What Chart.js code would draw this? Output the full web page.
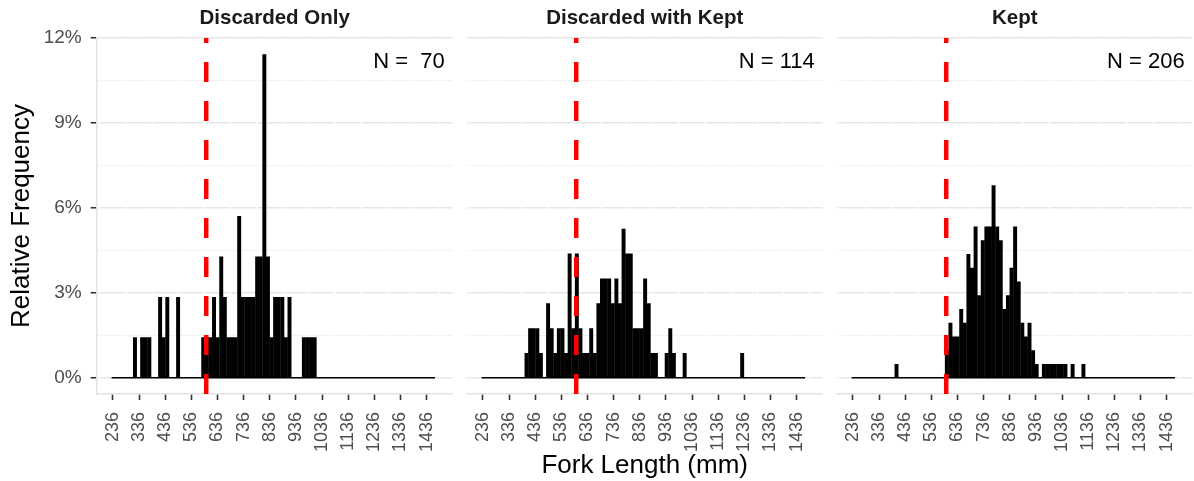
<!DOCTYPE html>
<html>
<head>
<meta charset="utf-8">
<script src="https://cdn.jsdelivr.net/npm/chart.js@4.4.1/dist/chart.umd.min.js"></script>
<style>
  html, body { margin: 0; padding: 0; background: #fff; }
  #wrap { position: relative; width: 1194px; height: 481px; overflow: hidden; }
  canvas { position: absolute; top: 0; }
</style>
</head>
<body>
<div id="wrap">
  <canvas id="p1" width="460" height="481" style="left:0px"></canvas>
  <canvas id="p2" width="370" height="481" style="left:460px"></canvas>
  <canvas id="p3" width="364" height="481" style="left:830px"></canvas>
</div>
<script>
// facets
const panelTitles = ["Discarded Only", "Discarded with Kept", "Kept"];
const sampleSizes = [70, 114, 206];
const nLabels = ["N =  70", "N = 114", "N = 206"];

// histogram bins (mm)
const binStart = 231;
const binWidth = 13.75;

// fish per bin
const countsDiscarded = [
  0,0,0,0,0,0,1,0,1,1,
  1,0,0,2,1,2,0,0,2,0,
  0,0,0,0,0,1,1,1,2,1,
  3,2,1,1,1,4,2,2,2,2,
  3,3,8,3,1,2,2,2,1,2,
  0,0,0,1,1,1,1,0,0,0,
  0,0,0,0,0,0,0,0,0,0,
  0,0,0,0,0,0,0,0,0,0,
  0,0,0,0,0,0,0,0,0,0
];
const countsDiscardedKept = [
  0,0,0,0,0,0,0,0,0,0,
  0,0,1,2,2,2,1,0,3,2,
  1,2,2,1,5,2,5,2,1,1,
  2,1,3,4,4,4,3,4,3,6,
  5,5,2,2,2,4,3,1,1,0,
  0,1,2,1,0,0,1,0,0,0,
  0,0,0,0,0,0,0,0,0,0,
  0,0,1,0,0,0,0,0,0,0,
  0,0,0,0,0,0,0,0,0,0
];
const countsKept = [
  0,0,0,0,0,0,0,0,0,0,
  0,0,1,0,0,0,0,0,0,0,
  0,0,0,0,0,0,2,4,3,3,
  5,4,9,8,11,6,10,11,11,14,
  11,10,5,6,8,11,7,4,3,4,
  2,1,0,1,1,1,1,1,1,1,
  0,1,0,0,1,0,0,0,0,0,
  0,0,0,0,0,0,0,0,0,0,
  0,0,0,0,0,0,0,0,0,0
];

// axes
const xTicks = [236, 336, 436, 536, 636, 736, 836, 936, 1036, 1136, 1236, 1336, 1436];
const yTicks = [0, 1.5, 3, 4.5, 6, 7.5, 9, 10.5, 12];
const xLimits = [174, 1536];
const minSizeLine = 593;

const allCounts = [countsDiscarded, countsDiscardedKept, countsKept];

Chart.defaults.font.family = '"Liberation Sans", Arial, sans-serif';

const pct = allCounts.map((c, p) => c.map(v => v / sampleSizes[p] * 100));
const maxPct = Math.max(...pct.flat());
const yLimits = [-maxPct * 0.05, maxPct * 1.05];
const isMajor = v => Math.abs(v / 3 - Math.round(v / 3)) < 1e-6;

const decor = {
  id: 'decor',
  beforeDatasetsDraw(chart) {
    const { ctx, chartArea: a, scales: { x } } = chart;
    ctx.save();
    ctx.strokeStyle = '#ffffff';
    ctx.lineWidth = 1.4;
    const minors = xTicks.map(v => v - 50).concat([xTicks[xTicks.length - 1] + 50]);
    minors.forEach(v => {
      const px = x.getPixelForValue(v);
      if (px < a.left + 1 || px > a.right) return;
      ctx.beginPath();
      ctx.moveTo(px, a.top);
      ctx.lineTo(px, a.bottom - 1.5);
      ctx.stroke();
    });
    ctx.restore();
  },
  afterDatasetsDraw(chart, args, opts) {
    const { ctx, chartArea: a, scales: { x, y } } = chart;
    const nBins = opts.nBins;
    // zero baseline of the histogram
    ctx.save();
    ctx.strokeStyle = '#000';
    ctx.lineWidth = 1.6;
    ctx.beginPath();
    ctx.moveTo(x.getPixelForValue(binStart), y.getPixelForValue(0));
    ctx.lineTo(x.getPixelForValue(binStart + binWidth * nBins), y.getPixelForValue(0));
    ctx.stroke();
    ctx.restore();

    // minimum size line
    ctx.save();
    ctx.beginPath();
    ctx.rect(a.left, a.top, a.right - a.left, a.bottom - a.top);
    ctx.clip();
    const xr = x.getPixelForValue(minSizeLine);
    ctx.strokeStyle = '#FF0000';
    ctx.lineWidth = 4.5;
    ctx.setLineDash([20, 19]);
    ctx.beginPath();
    ctx.moveTo(xr, a.bottom);
    ctx.lineTo(xr, a.top);
    ctx.stroke();
    ctx.restore();

    // sample size
    ctx.save();
    ctx.fillStyle = '#000';
    ctx.font = '22px "Liberation Sans", Arial, sans-serif';
    ctx.textAlign = 'right';
    ctx.textBaseline = 'middle';
    ctx.fillText(opts.nLabel, a.right - 8, 62);
    // strip title
    ctx.fillStyle = '#1a1a1a';
    ctx.font = 'bold 20.5px "Liberation Sans", Arial, sans-serif';
    ctx.textAlign = 'center';
    ctx.fillText(opts.title, (a.left + a.right) / 2, 18);
    ctx.restore();
  }
};

function makePanel(id, p, pad) {
  const first = p === 0;
  const counts = allCounts[p];
  const data = counts.map((c, i) => ({ x: binStart + binWidth * (i + 0.5), y: pct[p][i] }));
  new Chart(document.getElementById(id), {
    type: 'bar',
    data: {
      datasets: [{
        data: data,
        backgroundColor: '#000',
        borderWidth: 0,
        barPercentage: 1.1,
        categoryPercentage: 1.0
      }]
    },
    options: {
      responsive: false,
      animation: false,
      layout: { padding: pad },
      plugins: {
        legend: { display: false },
        tooltip: { enabled: false },
        decor: { title: panelTitles[p], nLabel: nLabels[p], nBins: counts.length }
      },
      scales: {
        x: {
          type: 'linear',
          position: 'bottom',
          offset: false,
          min: xLimits[0],
          max: xLimits[1],
          afterBuildTicks: s => { s.ticks = xTicks.map(v => ({ value: v })); },
          afterFit: s => {
            s.height = 87;
            s.paddingLeft = 0;
            s.paddingRight = 0;
          },
          ticks: {
            autoSkip: false,
            maxRotation: 90,
            minRotation: 90,
            padding: 12,
            color: '#4d4d4d',
            font: { size: 18 },
            callback: v => String(v)
          },
          grid: {
            offset: false,
            drawOnChartArea: false,
            drawTicks: true,
            tickLength: 6,
            tickColor: '#333333',
            tickWidth: 1.6
          },
          border: { display: true, color: '#e3e3e3', width: 1.5 },
          title: {
            display: p === 1,
            text: 'Fork Length (mm)',
            color: '#000',
            font: { size: 26 },
            padding: { top: 0, bottom: 0 }
          }
        },
        y: {
          type: 'linear',
          position: 'left',
          min: yLimits[0],
          max: yLimits[1],
          afterBuildTicks: s => { s.ticks = yTicks.map(v => ({ value: v })); },
          afterFit: s => {
            s.width = first ? 96.7 : 0;
            s.paddingTop = 0;
            s.paddingBottom = 0;
          },
          ticks: {
            display: first,
            padding: 9,
            color: '#4d4d4d',
            font: { size: 19 },
            callback: v => isMajor(v) ? v + '%' : ''
          },
          grid: {
            drawTicks: first,
            tickLength: 6,
            color: c => isMajor(c.tick.value) ? '#e6e6e6' : '#f1f1f1',
            lineWidth: c => isMajor(c.tick.value) ? 1.5 : 0.9,
            tickColor: c => isMajor(c.tick.value) ? '#333333' : 'rgba(0,0,0,0)',
            tickWidth: 1.6
          },
          border: { display: first, color: '#e3e3e3', width: 1.5 },
          title: {
            display: first,
            text: 'Relative Frequency',
            color: '#000',
            font: { size: 26 },
            padding: { top: 6, bottom: 0 }
          }
        }
      }
    },
    plugins: [decor]
  });
}

makePanel('p1', 0, { left: 0, right: 7.3, top: 38, bottom: 0 });
makePanel('p2', 1, { left: 6.7, right: 7.3, top: 38, bottom: 0 });
makePanel('p3', 2, { left: 6.7, right: 1.3, top: 38, bottom: 0 });
</script>
</body>
</html>
